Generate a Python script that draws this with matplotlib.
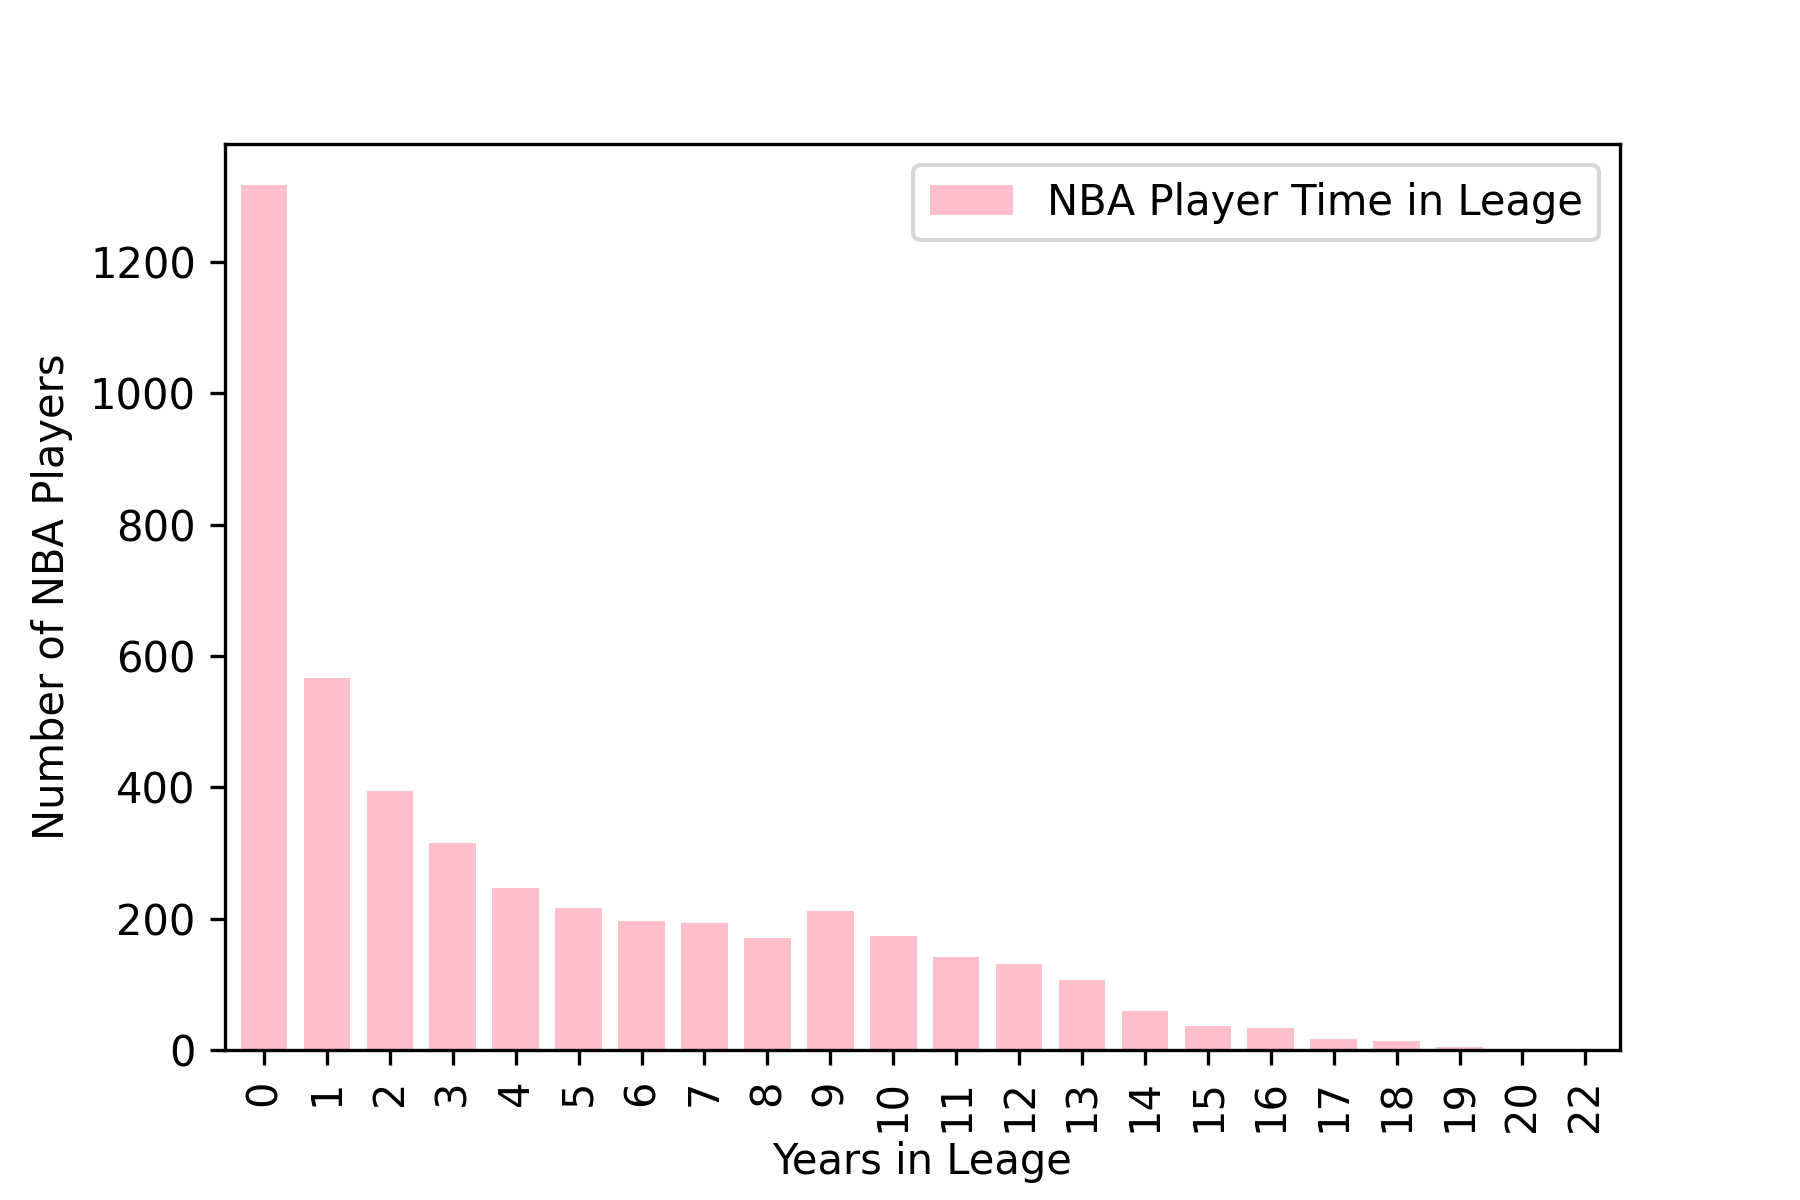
import numpy as np
from matplotlib import pyplot as plt

years = ['0', '1', '2', '3', '4', '5', '6', '7', '8', '9', '10',
         '11', '12', '13', '14', '15', '16', '17', '18', '19', '20', '22']
players = [1318, 566, 394, 315, 246, 217, 196, 194, 171, 211, 174,
           142, 131, 106, 59, 37, 33, 17, 13, 4, 2, 1]

fig, ax = plt.subplots(figsize=(6, 4), dpi=300)
fig.subplots_adjust(bottom=0.125)
x = np.arange(len(years))
ax.bar(x, players, width=0.74, color='pink', label='NBA Player Time in Leage')
ax.set_xticks(x)
ax.set_xticklabels(years, rotation=90)
ax.set_xlim(-0.62, len(years) - 0.45)
ax.set_ylim(0, 1380)
ax.set_xlabel('Years in Leage', labelpad=2)
ax.set_ylabel('Number of NBA Players')
ax.legend(loc='upper right')
plt.savefig('out.png')
